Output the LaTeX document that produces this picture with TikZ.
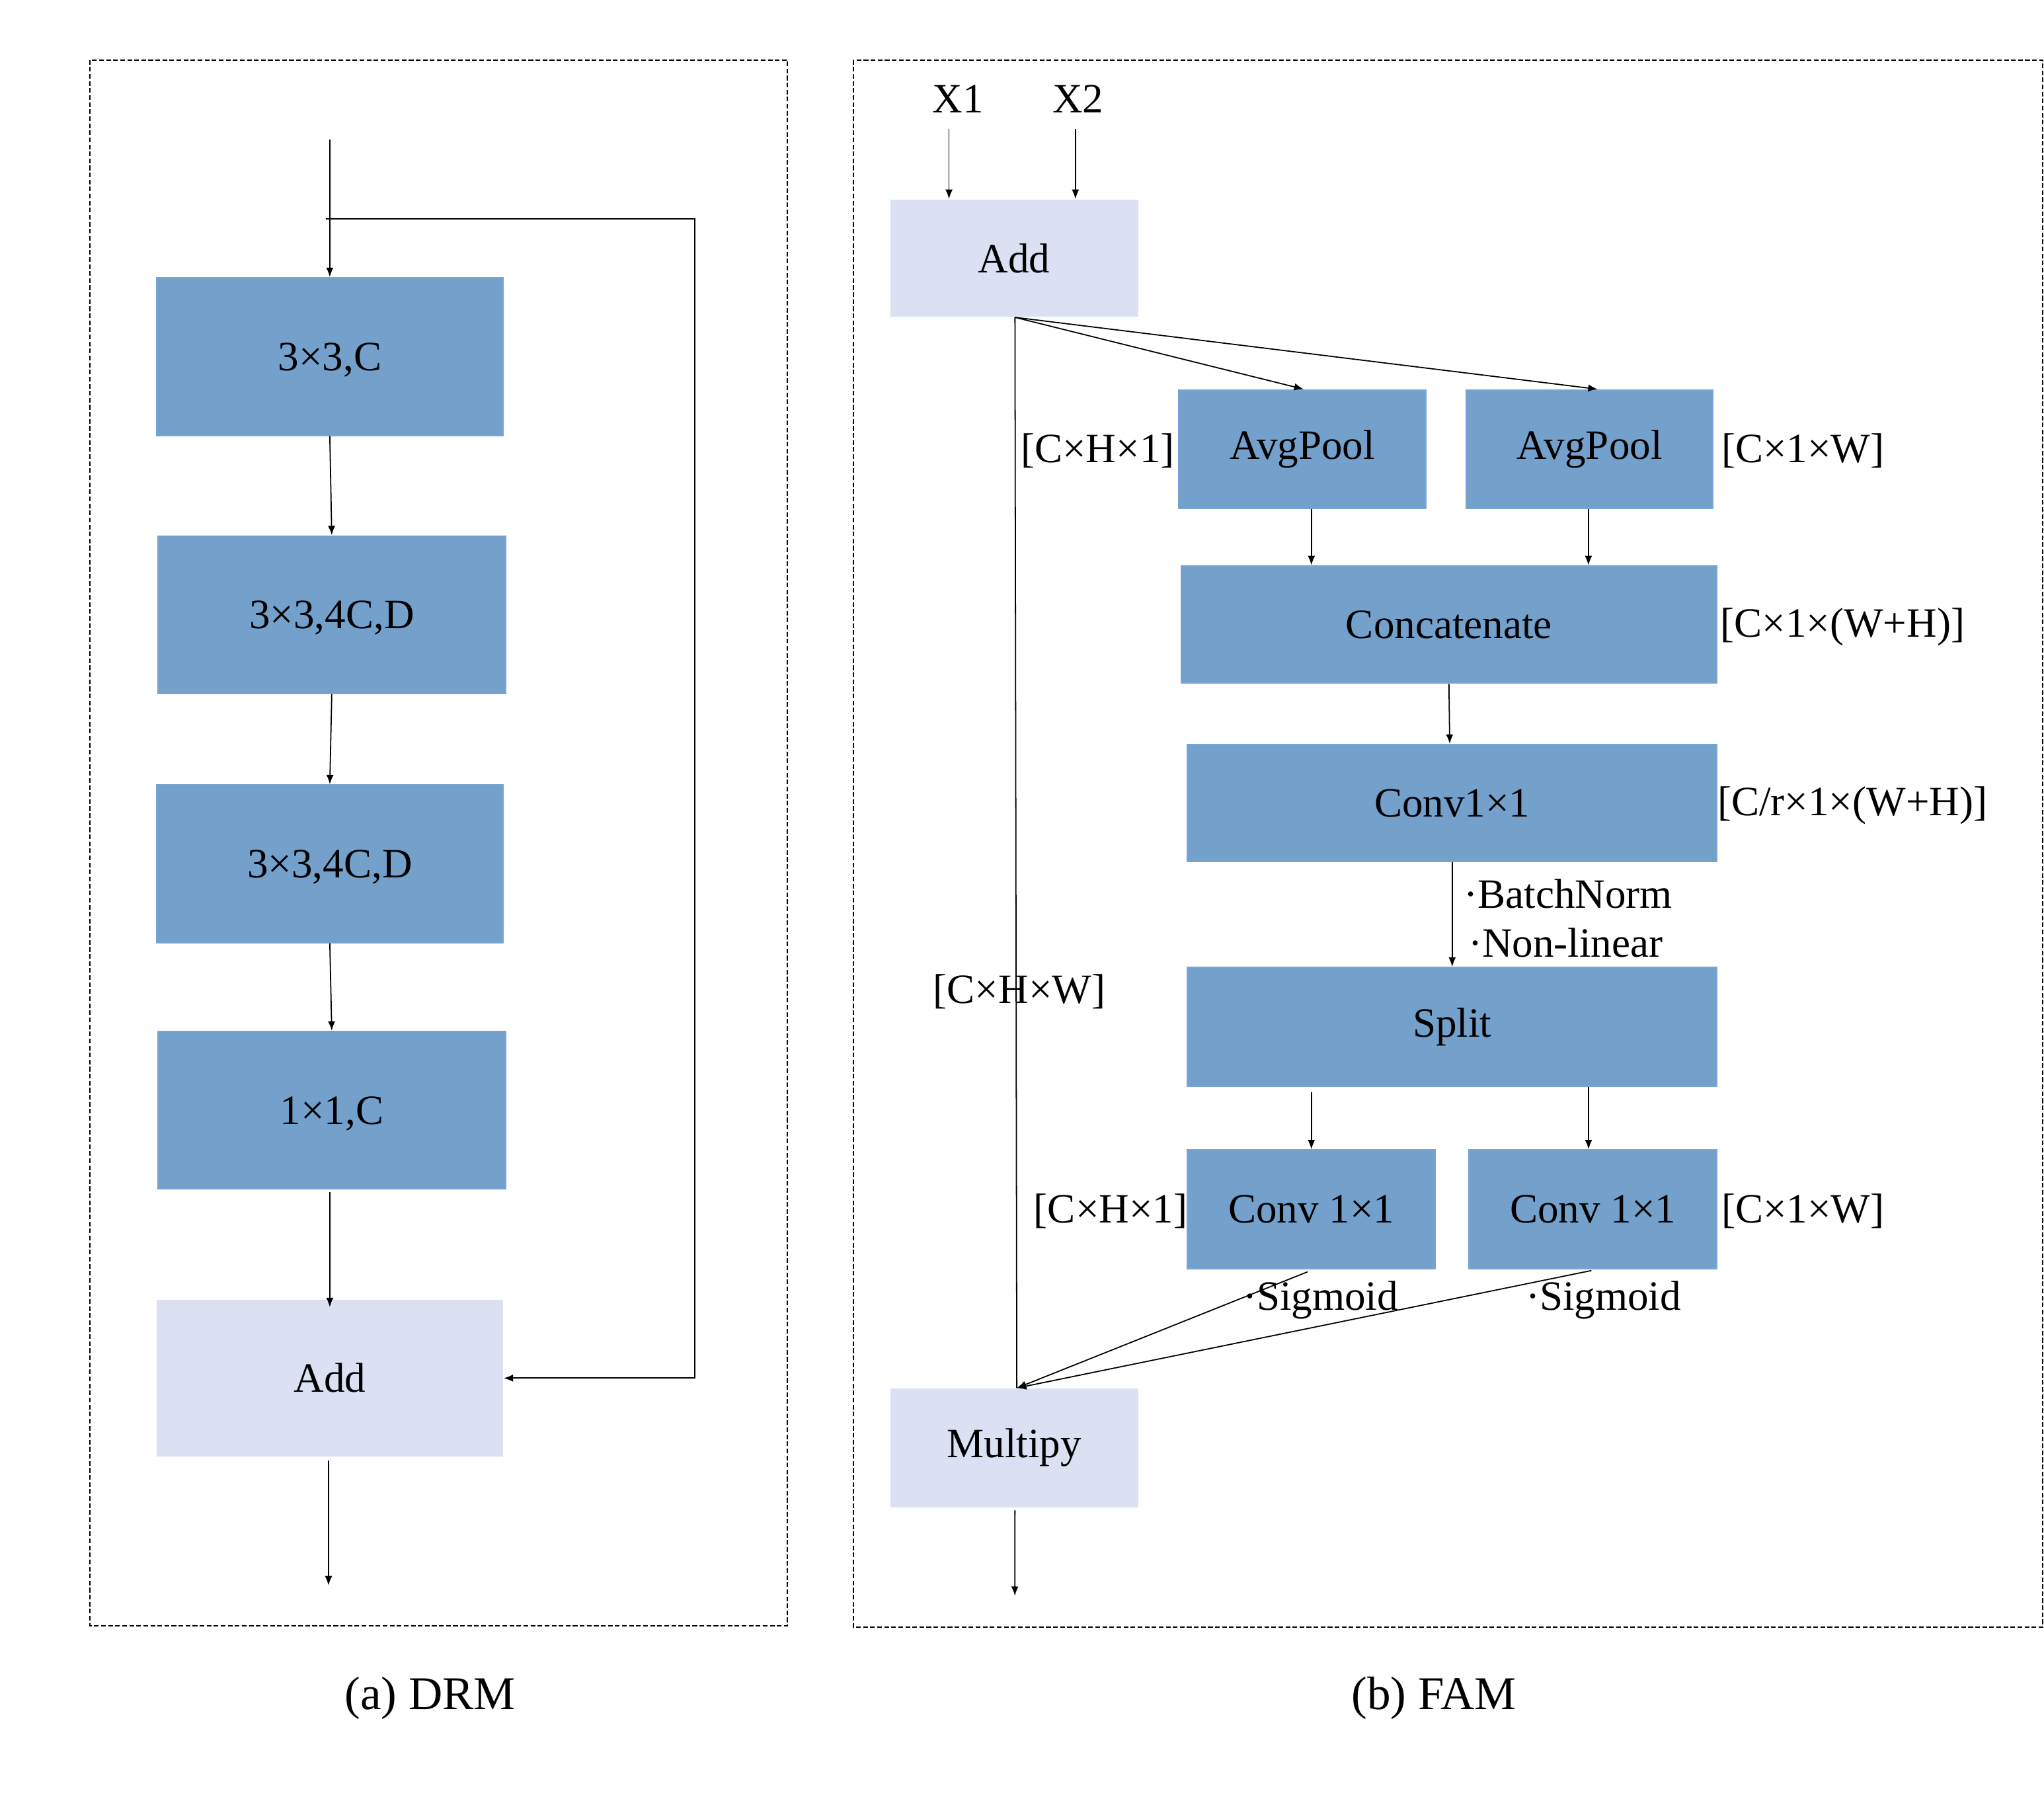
\documentclass[tikz,border=0pt]{standalone}
\usepackage{fontspec}
\setmainfont{Liberation Serif}
\usetikzlibrary{arrows.meta,calc}
\definecolor{boxblue}{RGB}{116,160,204}
\definecolor{boxedge}{RGB}{120,165,215}
\definecolor{boxlight}{RGB}{219,225,243}
\begin{document}
\begin{tikzpicture}[x=0.5pt,y=-0.5pt,
  font=\fontsize{16}{19}\selectfont,
  bb/.style={fill=boxblue, draw=boxedge, line width=0.5pt, inner sep=0pt},
  lb/.style={fill=boxlight, inner sep=0pt},
  arr/.style={-{Latex[length=3.6pt,width=2.8pt]}, line width=0.45pt},
  ln/.style={line width=0.45pt},
  frame/.style={dash pattern=on 1.8pt off 0.9pt, line width=0.45pt},
  lbl/.style={inner sep=0pt},
  captxt/.style={inner sep=0pt, font=\fontsize{18}{21}\selectfont}]
\useasboundingbox (0,0) rectangle (1568,1382.4);

% frames
\draw[frame] (69,46) rectangle (604,1247);
\draw[frame] (654.5,46) rectangle (1567,1248);

% ---------- (a) DRM ----------
\node[bb, minimum width=133pt, minimum height=60.5pt, text depth=-1.5pt] (b1) at (253,273.5) {3×3,C};
\node[bb, minimum width=133.5pt, minimum height=60.5pt, text depth=-1.5pt] (b2) at (254.5,471.5) {3×3,4C,D};
\node[bb, minimum width=133pt, minimum height=60.5pt, text depth=-1.5pt] (b3) at (253,662.5) {3×3,4C,D};
\node[bb, minimum width=133.5pt, minimum height=60.5pt, text depth=-1.5pt] (b4) at (254.5,851.5) {1×1,C};
\node[lb, minimum width=133pt, minimum height=60pt] (addL) at (253,1057) {Add};

\coordinate (inL) at (253,107);
\coordinate (skipL) at (250,168);
\coordinate (skipR) at (533,168);
\coordinate (outL) at (252,1216);

\draw[arr] (inL) -- (b1.north);
\draw[arr] (b1.south) -- (b2.north);
\draw[arr] (b2.south) -- (b3.north);
\draw[arr] (b3.south) -- (b4.north);
\draw[arr] ([xshift=-0.75pt,yshift=-1pt]b4.south) -- ([yshift=-3pt]addL.north);
\draw[arr] (skipL) -- (skipR) -- (skipR |- addL.east) -- (addL.east);
\draw[arr] ([xshift=-0.5pt,yshift=-1.5pt]addL.south) -- (outL);

\node[captxt, anchor=base] (capA) at (330,1311) {(a) DRM};

% ---------- (b) FAM ----------
\node[lbl] (x1) at (735,76) {X1};
\node[lbl] (x2) at (827,76) {X2};
\node[lb, minimum width=95pt, minimum height=45pt] (addR) at (778,198) {Add};
\node[bb, minimum width=95pt, minimum height=45.5pt] (ap1) at (999,344.5) {AvgPool};
\node[bb, minimum width=94.5pt, minimum height=45.5pt] (ap2) at (1219.5,344.5) {AvgPool};
\node[bb, minimum width=205.5pt, minimum height=45pt] (cat) at (1111.5,479) {Concatenate};
\node[bb, minimum width=203pt, minimum height=45pt] (conv) at (1114,616) {Conv1×1};
\node[bb, minimum width=203pt, minimum height=45.5pt] (split) at (1114,787.5) {Split};
\node[bb, minimum width=95pt, minimum height=45.5pt] (cv1) at (1006,927.5) {Conv 1×1};
\node[bb, minimum width=95pt, minimum height=45.5pt] (cv2) at (1222,927.5) {Conv 1×1};
\node[lb, minimum width=95pt, minimum height=45.5pt] (mul) at (778,1110.5) {Multipy};

% labels
\node[lbl] (l1) at (842,346) {[C×H×1]};
\node[lbl] (l2) at (1383,346) {[C×1×W]};
\node[lbl] (l3) at (1413.5,481) {[C×1×(W+H)]};
\node[lbl] (l4) at (1421,618) {[C/r×1×(W+H)]};
\node[lbl] (l5) at (1203,685.5) {·BatchNorm};
\node[lbl] (l6) at (1201,723) {·Non-linear};
\node[lbl] (l7) at (782,760.5) {[C×H×W]};
\node[lbl] (l8) at (852,929) {[C×H×1]};
\node[lbl] (l9) at (1383,929) {[C×1×W]};
\node[lbl] (s1) at (1013,997) {·Sigmoid};
\node[lbl] (s2) at (1230,997) {·Sigmoid};

\node[captxt, anchor=base] (capB) at (1100,1311) {(b) FAM};

% connectors
\coordinate (x1a) at (728,99);
\coordinate (x2a) at (825,99);
\coordinate (outR) at (778.5,1224);
\draw[arr] (x1a) -- (x1a |- addR.north);
\draw[arr] (x2a) -- (x2a |- addR.north);
\draw[ln] ([xshift=0.3pt]addR.south) -- ([xshift=1pt]mul.north);
\draw[arr] ([xshift=0.3pt]addR.south) -- ([xshift=0.5pt]ap1.north);
\draw[arr] ([xshift=0.3pt]addR.south) -- ([xshift=3pt]ap2.north);
\draw[arr] ([xshift=3.5pt]ap1.south) -- ([xshift=3.5pt]ap1.south |- cat.north);
\draw[arr] ([xshift=-0.5pt]ap2.south) -- ([xshift=-0.5pt]ap2.south |- cat.north);
\draw[arr] (cat.south) -- ([xshift=0.3pt]cat.south |- conv.north);
\draw[arr] (conv.south) -- (split.north);
\draw[arr] ([yshift=-2pt]cv1.north |- split.south) -- (cv1.north);
\draw[arr] ([xshift=-1.7pt]cv2.north |- split.south) -- ([xshift=-1.7pt]cv2.north);
\draw[arr] ([xshift=-1.5pt,yshift=-1pt]cv1.south) -- ([xshift=1pt]mul.north);
\draw[arr] ([xshift=-0.6pt,yshift=-0.5pt]cv2.south) -- ([xshift=1pt]mul.north);
\draw[arr] ([xshift=0.3pt,yshift=-1pt]mul.south) -- (outR);
\end{tikzpicture}
\end{document}
